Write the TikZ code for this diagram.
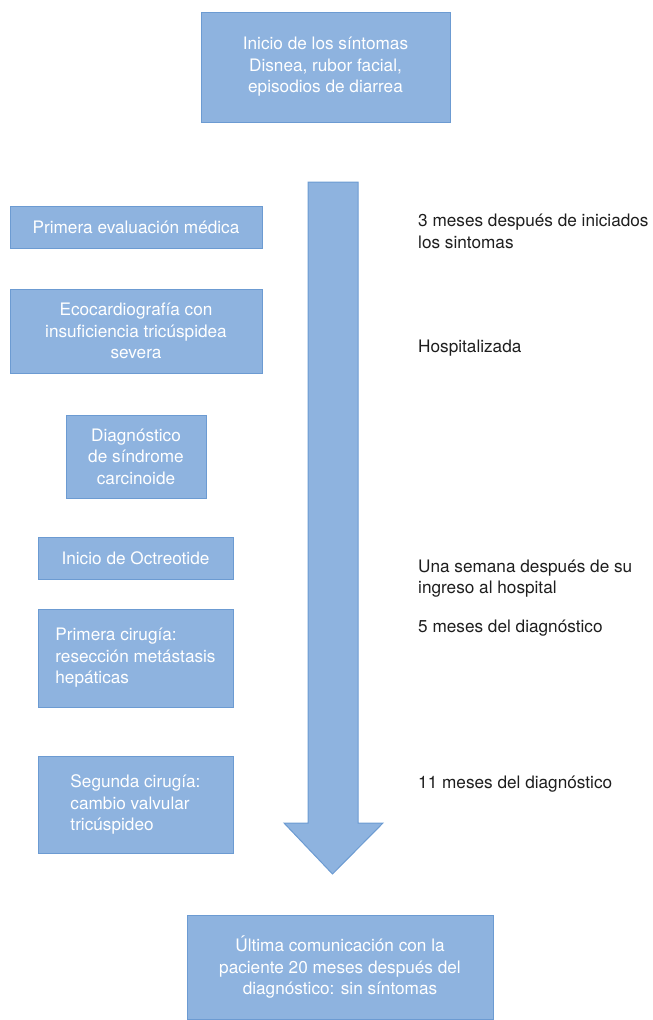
\documentclass[tikz,border=0pt]{standalone}
\usepackage{fontspec}
\setmainfont{TeX Gyre Heros}
\usetikzlibrary{positioning}
\definecolor{boxblue}{RGB}{142,179,223}
\definecolor{boxedge}{RGB}{108,155,210}
\definecolor{notegray}{RGB}{30,30,30}
\tikzset{
  stagebox/.style={fill=boxblue,draw=boxedge,line width=1pt,text=white,align=center,inner sep=0pt,font=\fontsize{17.2}{21.5}\selectfont},
  notetext/.style={anchor=west,align=left,text=notegray,inner sep=0pt,font=\fontsize{17.2}{21.5}\selectfont}
}

\begin{document}
\begin{tikzpicture}[x=1pt,y=-1pt]
\useasboundingbox (0,0) rectangle (653,1020);

% timeline arrow
\coordinate (shaftL) at (308,182);
\coordinate (shaftR) at (358,182);
\coordinate (tip) at (332.5,874);
\filldraw[fill=boxblue,draw=boxedge,line width=1pt,line join=miter]
  (shaftL) -- (shaftR) -- (358,823) -- (383,823) -- (tip) -- (284,823) -- (308,823) -- cycle;

% stages
\node[stagebox,minimum width=249,minimum height=110] (inicio) at (325.5,67)
  {Inicio de los síntomas\\Disnea, rubor facial,\\episodios de diarrea};
\node[stagebox,minimum width=252,minimum height=42] (evaluacion) at (136,227)
  {Primera evaluación médica};
\node[stagebox,minimum width=252,minimum height=84] (eco) at (136,331)
  {Ecocardiografía con\\insuficiencia tricúspidea\\severa};
\node[stagebox,minimum width=140,minimum height=83] (diagnostico) at (136,456.5)
  {Diagnóstico\\de síndrome\\carcinoide};
\node[stagebox,minimum width=195,minimum height=42] (octreotide) at (135.5,558)
  {Inicio de Octreotide};
\node[stagebox,align=left,minimum width=195,minimum height=98] (cirugia1) at (135.5,658)
  {Primera cirugía:\\resección metástasis\\hepáticas};
\node[stagebox,align=left,minimum width=195,minimum height=97] (cirugia2) at (135.5,804.5)
  {Segunda cirugía:\\cambio valvular\\tricúspideo};
\node[stagebox,minimum width=306,minimum height=104] (ultima) at (340,967)
  {Última comunicación con la\\paciente 20 meses después del\\diagnóstico: sin síntomas};

% time notes
\node[notetext] (nota1) at (418,231.5) {3 meses después de iniciados\\los sintomas};
\node[notetext] (nota2) at (418,348) {Hospitalizada};
\node[notetext] (nota3) at (418,578.5) {Una semana después de su\\ingreso al hospital};
\node[notetext] (nota4) at (418,628) {5 meses del diagnóstico};
\node[notetext] (nota5) at (418,784) {11 meses del diagnóstico};
\end{tikzpicture}
\end{document}
